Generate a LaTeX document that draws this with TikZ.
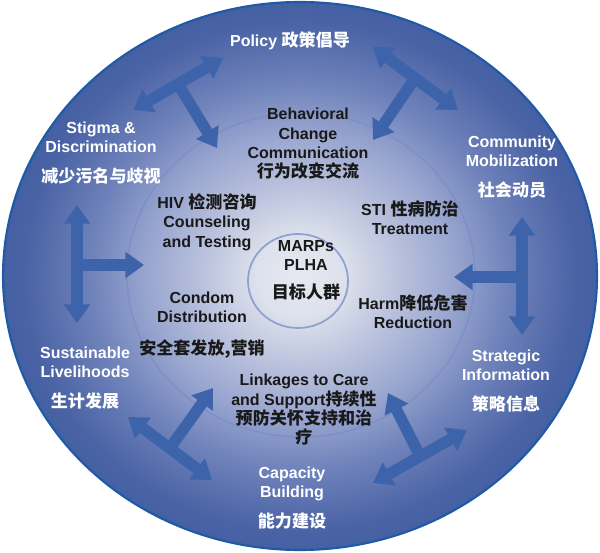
\documentclass[tikz,border=0pt]{standalone}
\usepackage{fontspec}
\setmainfont{Liberation Sans}
\newfontfamily\cjk{Noto Sans CJK SC}
\newcommand{\zh}[1]{{\cjk\fontsize{12.8}{14.5}\selectfont #1}}
\usetikzlibrary{arrows.meta}

\definecolor{glowA}{HTML}{E6E9F1}
\definecolor{glowB}{HTML}{DDE1EC}
\definecolor{glowC}{HTML}{B8C0DC}
\definecolor{glowD}{HTML}{98A5CF}
\definecolor{glowE}{HTML}{7083BB}
\definecolor{glowF}{HTML}{4A63A5}
\definecolor{glowG}{HTML}{4460A3}
\definecolor{rimblue}{HTML}{1F5AA6}
\definecolor{ringline}{HTML}{7D90C4}
\definecolor{coreline}{HTML}{8DA0D0}
\definecolor{arrowblue}{HTML}{3D64AA}

% the path box maps onto the middle 50bp of the shading
\pgfdeclareradialshading{ringglow}{\pgfpoint{0bp}{0bp}}{%
  color(0bp)=(glowA); color(3.75bp)=(glowB); color(8.5bp)=(glowC);
  color(13bp)=(glowD); color(17.5bp)=(glowE); color(23.2bp)=(glowF);
  color(25bp)=(glowG); color(50bp)=(glowG)}

\begin{document}
\begin{tikzpicture}[
    x=0.75pt, y=-0.75pt,
    outer/.style={
        font=\bfseries\fontsize{12}{14.5}\selectfont,
        text=white,
        align=center
    },
    inner/.style={
        font=\bfseries\fontsize{12}{14.5}\selectfont,
        text=black!90,
        align=center
    },
    link/.style={
        draw=arrowblue, line width=8.5pt,
        {Triangle[length=14pt,width=19pt]}-{Triangle[length=14pt,width=19pt]}
    },
    stem/.style={
        draw=arrowblue, line width=8.5pt,
        -{Triangle[length=14pt,width=19pt]}
    }
]
\useasboundingbox (0, 0) rectangle (600, 553);

% Rings
\shade[shading=ringglow] (300, 276) ellipse [x radius=297, y radius=274];
\draw[rimblue, line width=1.6pt] (300, 276) ellipse [x radius=297, y radius=274];
\draw[ringline, line width=1.1pt] (301, 275) ellipse [x radius=174, y radius=162];
\draw[coreline, line width=1.3pt] (298, 281) ellipse [x radius=50, y radius=47];

% Arrow end points
\coordinate (tl-a) at (133, 110);
\coordinate (tl-b) at (223, 58);
\coordinate (tl-m) at (178, 84);
\coordinate (tl-t) at (217, 148);

\coordinate (tr-a) at (373, 47);
\coordinate (tr-b) at (458, 110);
\coordinate (tr-m) at (415, 78);
\coordinate (tr-t) at (373, 140);

\coordinate (l-a) at (77, 205);
\coordinate (l-b) at (77, 323);
\coordinate (l-m) at (77, 265);
\coordinate (l-t) at (144, 265);

\coordinate (r-a) at (522, 217);
\coordinate (r-b) at (522, 335);
\coordinate (r-m) at (522, 277);
\coordinate (r-t) at (454, 277);

\coordinate (bl-a) at (128, 417);
\coordinate (bl-b) at (212, 480);
\coordinate (bl-m) at (170, 448);
\coordinate (bl-t) at (213, 388);

\coordinate (br-a) at (373, 483);
\coordinate (br-b) at (467, 430);
\coordinate (br-m) at (420, 456);
\coordinate (br-t) at (388, 393);

% T arrows
\foreach \p in {tl, tr, l, r, bl, br} {
    \draw[link] (\p-a) -- (\p-b);
    \draw[stem] (\p-m) -- (\p-t);
}

% Outer ring
\node[outer] (policy) at (290, 41) {Policy \zh{政策倡导}};
\node[outer] (stigma) at (101, 153) {Stigma \&\\Discrimination\\[8pt]\zh{减少污名与歧视}};
\node[outer] (community) at (512, 167) {Community\\Mobilization\\[8pt]\zh{社会动员}};
\node[outer] (livelihood) at (85, 378) {Sustainable\\Livelihoods\\[8pt]\zh{生计发展}};
\node[outer] (strategic) at (506, 381) {Strategic\\Information\\[8pt]\zh{策略信息}};
\node[outer] (capacity) at (292, 498) {Capacity\\Building\\[8pt]\zh{能力建设}};

% Middle ring
\node[inner] (bcc) at (308, 144) {Behavioral\\Change\\Communication\\\zh{行为改变交流}};
\node[inner] (hct) at (207, 222) {HIV \zh{检测咨询}\\Counseling\\and Testing};
\node[inner] (sti) at (410, 218) {STI \zh{性病防治}\\Treatment};
\node[inner] (condom) at (202, 325) {Condom\\Distribution\\[9pt]\zh{安全套发放,营销}};
\node[inner] (harm) at (413, 312) {Harm\zh{降低危害}\\Reduction};
\node[inner] (linkage) at (304, 410) {Linkages to Care\\and Support\zh{持续性}\\\zh{预防关怀支持和治}\\\zh{疗}};

% Core
\node[inner] (marps) at (306, 270) {MARPs\\PLHA\\[6pt]\zh{目标人群}};

\end{tikzpicture}
\end{document}
